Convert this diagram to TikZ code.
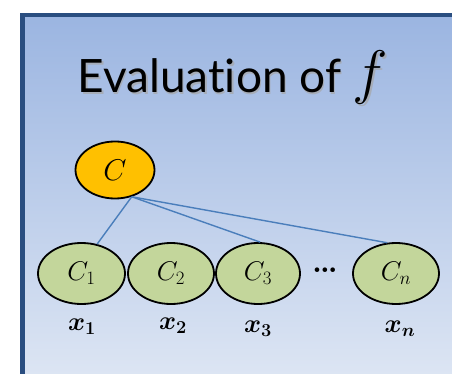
\documentclass[tikz,border=0pt]{standalone}
\usepackage{fix-cm}
\usepackage{fontspec}
\setsansfont{Lato}[Ligatures=NoCommon]
\usetikzlibrary{shapes.geometric}
\definecolor{panelTop}{HTML}{9BB5E1}
\definecolor{panelBot}{HTML}{DFE7F4}
\definecolor{panelBorder}{HTML}{2A4E80}
\definecolor{rootFill}{HTML}{FFC000}
\definecolor{leafFill}{HTML}{C3D69B}
\definecolor{linkBlue}{HTML}{4A7EBB}
\tikzset{
  rootnode/.style={ellipse, draw=black, line width=1.8pt, fill=rootFill, inner sep=0pt,
    minimum width=79pt, minimum height=57pt, font=\fontsize{30}{34}\selectfont},
  leafnode/.style={ellipse, draw=black, line width=1.8pt, fill=leafFill, inner sep=0pt,
    minimum width=86pt, minimum height=61pt, font=\fontsize{27}{30}\selectfont},
  varlabel/.style={inner sep=0pt, font=\boldmath\fontsize{26}{30}\selectfont},
  link/.style={draw=linkBlue, line width=1.4pt},
  titletext/.style={inner sep=0pt, font=\sffamily\fontsize{46}{54}\selectfont}
}
\newcommand{\titlecontent}{Evaluation of {\fontsize{60}{60}\selectfont$f$}}
\begin{document}
\begin{tikzpicture}[x=1pt,y=-1pt]
\clip (0,0) rectangle (452,374);
\fill[white] (0,0) rectangle (452,374);
\shade[top color=panelTop, bottom color=panelBot] (22.5,15) rectangle (470,390);
\draw[panelBorder, line width=4.5pt] (470,15) -- (22.5,15) -- (22.5,390);
% title with shadow
\node[titletext, text=gray!70, opacity=0.7, anchor=base] (titleshadow) at (234.5,94.5) {\titlecontent};
\node[titletext, text=black, anchor=base] (title) at (233,93) {\titlecontent};
% nodes
\node[rootnode] (C) at (115,170) {$C$};
\node[leafnode, minimum width=87pt] (c1) at (81.5,273.5) {$C_1$};
\node[leafnode] (c2) at (171,273.5) {$C_2$};
\node[leafnode, minimum width=84pt] (c3) at (258,273.5) {$C_3$};
\node[leafnode] (cn) at (396,273.5) {$C_n$};
\node[inner sep=0pt, font=\bfseries\fontsize{32}{36}\selectfont] (dots) at (325,270) {\ldots};
% links
\draw[link] (C.302) -- (c1.62);
\draw[link] (C.302) -- (c3.86);
\draw[link] (C.302) -- (cn.106);
% variable labels
\node[varlabel] (x1) at (82,327) {$x_1$};
\node[varlabel] (x2) at (173,326) {$x_2$};
\node[varlabel] (x3) at (258,329) {$x_3$};
\node[varlabel] (xn) at (400,329) {$x_n$};
\end{tikzpicture}
\end{document}
